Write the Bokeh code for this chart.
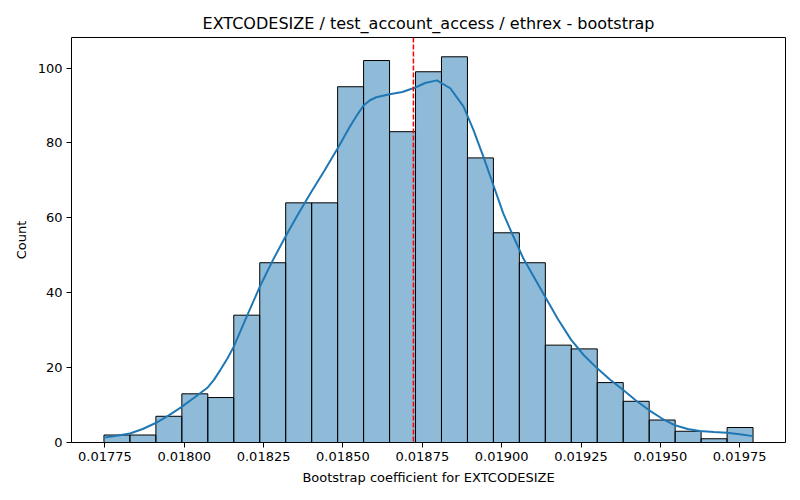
from bokeh.plotting import figure
from bokeh.models import Range1d, FixedTicker, PrintfTickFormatter, Span, ColumnDataSource
from bokeh.embed import file_html
from bokeh.resources import INLINE

# Histogram data
bin_start = 0.017747
bin_width = 0.0000818
counts = [2, 2, 7, 13, 12, 34, 48, 64, 64, 95, 102, 83, 99, 103, 76,
          56, 48, 26, 25, 16, 11, 6, 3, 1, 4]

# KDE curve
kde_x = [0.017747, 0.017787, 0.017829, 0.017869, 0.017910, 0.017950, 0.017992,
         0.018032, 0.018074, 0.018094, 0.018114, 0.018135, 0.018156, 0.018196,
         0.018238, 0.018278, 0.018319, 0.018359, 0.018401, 0.018441, 0.018483,
         0.018523, 0.018545, 0.018565, 0.018585, 0.018605, 0.018647, 0.018687,
         0.018728, 0.018759, 0.018796, 0.018838, 0.018880, 0.018911, 0.018942,
         0.018974, 0.019005, 0.019037, 0.019068, 0.019137, 0.019177, 0.019219,
         0.019259, 0.019301, 0.019341, 0.019383, 0.019423, 0.019465, 0.019505,
         0.019546, 0.019586, 0.019624, 0.019668, 0.019710, 0.019750, 0.019792]
kde_y = [1.3, 1.8, 2.4, 3.6, 5.2, 7.2, 9.5,
         12.0, 14.7, 16.8, 19.4, 22.3, 25.6, 33.5,
         41.6, 48.5, 55.0, 61.0, 67.0, 72.5, 78.5,
         84.5, 87.5, 90.0, 91.4, 92.2, 93.0, 93.6,
         94.8, 96.0, 96.7, 94.6, 89.7, 83.5, 76.4,
         68.7, 61.2, 55.0, 49.2, 38.9, 33.0, 27.4,
         23.3, 19.8, 16.8, 14.0, 11.2, 8.6, 6.4,
         4.6, 3.6, 3.1, 2.8, 2.6, 2.2, 1.7]

point_estimate = 0.018722

x_ticks = [0.01775, 0.01800, 0.01825, 0.01850, 0.01875, 0.01900, 0.01925, 0.01950, 0.01975]
y_ticks = [0, 20, 40, 60, 80, 100]

title_text = "EXTCODESIZE / test_account_access / ethrex - bootstrap"
x_label = "Bootstrap coefficient for EXTCODESIZE"
y_label = "Count"

lefts = [bin_start + i * bin_width for i in range(len(counts))]
rights = [l + bin_width for l in lefts]
src = ColumnDataSource(dict(left=lefts, right=rights, top=counts))

x_lo = lefts[0]
x_hi = rights[-1]
pad = 0.05 * (x_hi - x_lo)

FONT = "DejaVu Sans"

p = figure(width=800, height=500, output_backend="svg", toolbar_location=None,
           x_range=Range1d(x_lo - pad, x_hi + pad),
           y_range=Range1d(0, max(counts) * 1.05),
           min_border_left=71, min_border_right=15, min_border_top=37, min_border_bottom=58)

p.title.text = title_text
p.title.align = "center"
p.title.text_font = FONT
p.title.text_font_size = "16px"
p.title.text_font_style = "normal"
p.title.text_color = "black"

p.quad(left="left", right="right", bottom=0, top="top", source=src,
       fill_color="#1f77b4", fill_alpha=0.5, line_color="black", line_width=1)

p.line(kde_x, kde_y, line_color="#1f77b4", line_width=2)

p.add_layout(Span(location=point_estimate, dimension="height", line_color="red",
                  line_width=1.5, line_dash="5 2"))

p.xgrid.visible = False
p.ygrid.visible = False
p.outline_line_color = "black"
p.outline_line_width = 1
p.outline_line_alpha = 1

for ax in (p.xaxis[0], p.yaxis[0]):
    ax.axis_line_color = None
    ax.major_tick_line_color = "black"
    ax.major_tick_out = 5
    ax.major_tick_in = 0
    ax.minor_tick_line_color = None
    ax.major_label_text_font = FONT
    ax.major_label_text_font_size = "13px"
    ax.major_label_text_color = "black"
    ax.axis_label_text_font = FONT
    ax.axis_label_text_font_size = "13px"
    ax.axis_label_text_font_style = "normal"
    ax.axis_label_text_color = "black"
    ax.major_label_standoff = 4
    ax.axis_label_standoff = 6

p.xaxis[0].ticker = FixedTicker(ticks=x_ticks)
p.xaxis[0].formatter = PrintfTickFormatter(format="%.5f")
p.yaxis[0].ticker = FixedTicker(ticks=y_ticks)
p.xaxis[0].axis_label = x_label
p.yaxis[0].axis_label = y_label

open("out.html", "w").write(file_html(p, INLINE))
